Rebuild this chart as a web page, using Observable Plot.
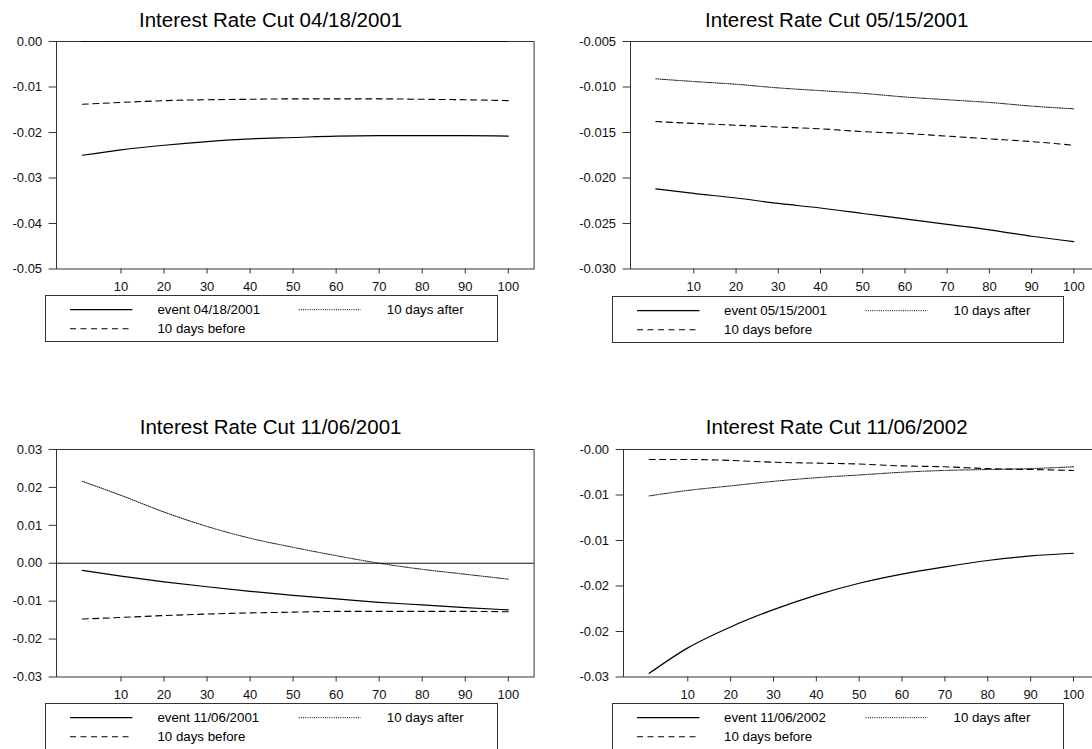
<!DOCTYPE html>
<html><head><meta charset="utf-8">
<script src="https://cdn.jsdelivr.net/npm/d3@7"></script>
<script src="https://cdn.jsdelivr.net/npm/@observablehq/plot@0.6"></script>
<style>
html,body{margin:0;padding:0;background:#fff;}
#fig{position:relative;width:1092px;height:749px;overflow:hidden;font-family:"Liberation Sans",Arial,sans-serif;color:#000;}
.title{position:absolute;font-size:20.5px;white-space:nowrap;transform:translateX(-50%);line-height:20.5px;}
.plot{position:absolute;}
.plot svg{max-width:none !important;}
.legend{position:absolute;width:450.5px;height:45px;border:1px solid #333;background:#fff;}
.legend span{position:absolute;font-size:13.3px;line-height:15px;white-space:nowrap;}
.legend svg{position:absolute;left:0;top:0;overflow:visible;}
</style></head><body><div id="fig"></div>
<script>
// ---- data ----
const days = [1, 10, 20, 30, 40, 50, 60, 70, 80, 90, 100];
const xTicks = [10, 20, 30, 40, 50, 60, 70, 80, 90, 100];
const seriesLabels = ["10 days before", "10 days after"];

const titles = ["Interest Rate Cut 04/18/2001", "Interest Rate Cut 05/15/2001", "Interest Rate Cut 11/06/2001", "Interest Rate Cut 11/06/2002"];
const eventLabels = ["event 04/18/2001", "event 05/15/2001", "event 11/06/2001", "event 11/06/2002"];

// Panel 1: 04/18/2001
const event1 = [-0.0250, -0.0238, -0.0228, -0.0220, -0.0214, -0.0211, -0.0208, -0.0207, -0.0207, -0.0207, -0.0208];
const before1 = [-0.0138, -0.0134, -0.0130, -0.0128, -0.0127, -0.0126, -0.0126, -0.0126, -0.0127, -0.0128, -0.0130];
const after1 = [0, 0, 0, 0, 0, 0, 0, 0, 0, 0, 0];
const yTicks1 = [0, -0.01, -0.02, -0.03, -0.04, -0.05];
const yLabels1 = ["0.00", "-0.01", "-0.02", "-0.03", "-0.04", "-0.05"];

// Panel 2: 05/15/2001
const event2 = [-0.0212, -0.0217, -0.0222, -0.0228, -0.0233, -0.0239, -0.0245, -0.0251, -0.0257, -0.0264, -0.0270];
const before2 = [-0.0138, -0.0140, -0.0142, -0.0144, -0.0146, -0.0149, -0.0151, -0.0154, -0.0157, -0.0160, -0.0164];
const after2 = [-0.0091, -0.0094, -0.0097, -0.0101, -0.0104, -0.0107, -0.0111, -0.0114, -0.0117, -0.0121, -0.0124];
const yTicks2 = [-0.005, -0.010, -0.015, -0.020, -0.025, -0.030];
const yLabels2 = ["-0.005", "-0.010", "-0.015", "-0.020", "-0.025", "-0.030"];

// Panel 3: 11/06/2001
const event3 = [-0.0019, -0.0034, -0.0049, -0.0062, -0.0074, -0.0085, -0.0094, -0.0103, -0.0110, -0.0117, -0.0123];
const before3 = [-0.0147, -0.0143, -0.0138, -0.0134, -0.0131, -0.0129, -0.0127, -0.0127, -0.0127, -0.0127, -0.0128];
const after3 = [0.0216, 0.0179, 0.0135, 0.0097, 0.0066, 0.0042, 0.0020, 0.0000, -0.0016, -0.0029, -0.0042];
const yTicks3 = [0.03, 0.02, 0.01, 0, -0.01, -0.02, -0.03];
const yLabels3 = ["0.03", "0.02", "0.01", "0.00", "-0.01", "-0.02", "-0.03"];

// Panel 4: 11/06/2002
const event4 = [-0.0271, -0.0243, -0.0220, -0.0201, -0.0185, -0.0172, -0.0162, -0.0154, -0.0147, -0.0142, -0.0139];
const before4 = [-0.0036, -0.0036, -0.0037, -0.0039, -0.0040, -0.0041, -0.0043, -0.0044, -0.0046, -0.0047, -0.0048];
const after4 = [-0.0076, -0.0070, -0.0065, -0.0060, -0.0056, -0.0053, -0.0050, -0.0048, -0.0047, -0.0046, -0.0044];
const yTicks4 = [-0.0025, -0.0075, -0.0125, -0.0175, -0.0225, -0.0275];
const yLabels4 = ["-0.00", "-0.01", "-0.01", "-0.02", "-0.02", "-0.03"];

// ---- layout ----
const panels = [
  {title: titles[0], ev: eventLabels[0], event: event1, before: before1, after: after1, yTicks: yTicks1, yLabels: yLabels1, yDomain: [-0.05, 0], zero: false,
   axisX: 55.7, frameTop: 41.3, frameW: 477.6, titleX: 270.6, legendX: 45, legendY: 295.3},
  {title: titles[1], ev: eventLabels[1], event: event2, before: before2, after: after2, yTicks: yTicks2, yLabels: yLabels2, yDomain: [-0.030, -0.005], zero: false,
   axisX: 630.4, frameTop: 41.3, frameW: 468.7, titleX: 836.7, legendX: 611.7, legendY: 295.5},
  {title: titles[2], ev: eventLabels[2], event: event3, before: before3, after: after3, yTicks: yTicks3, yLabels: yLabels3, yDomain: [-0.03, 0.03], zero: true,
   axisX: 55.7, frameTop: 449, frameW: 477.6, titleX: 270.6, legendX: 45, legendY: 703},
  {title: titles[3], ev: eventLabels[3], event: event4, before: before4, after: after4, yTicks: yTicks4, yLabels: yLabels4, yDomain: [-0.0275, -0.0025], zero: false,
   axisX: 622.8, frameTop: 449, frameW: 475.7, titleX: 836.7, legendX: 611.7, legendY: 703}
];

const fig = document.getElementById("fig");
const FONT = "'Liberation Sans', Arial, sans-serif";
const ML = 60, MR = 6, MT = 10, MB = 30, FH = 227.5;

for (const p of panels) {
  const rows = arr => days.map((d, i) => ({day: d, value: arr[i]}));
  const labelOf = new Map(p.yTicks.map((t, i) => [t, p.yLabels[i]]));
  const marks = [Plot.frame({stroke: "#333", strokeWidth: 1})];
  if (p.zero) marks.push(Plot.ruleY([0], {stroke: "#111", strokeWidth: 1}));
  marks.push(
    Plot.lineY(rows(p.before), {x: "day", y: "value", stroke: "#000", strokeWidth: 1.1, strokeDasharray: "6,4.5", curve: "monotone-x"}),
    Plot.lineY(rows(p.after), {x: "day", y: "value", stroke: "#000", strokeWidth: 1, strokeDasharray: "1,1.2", curve: "monotone-x"}),
    Plot.lineY(rows(p.event), {x: "day", y: "value", stroke: "#000", strokeWidth: 1.2, curve: "monotone-x"})
  );
  const W = ML + p.frameW + MR, H = MT + FH + MB;
  const svg = Plot.plot({
    width: W,
    height: H,
    marginLeft: ML, marginRight: MR, marginTop: MT, marginBottom: MB,
    style: {fontFamily: FONT, fontSize: "13px", color: "#333", background: "transparent", overflow: "visible", maxWidth: "none"},
    x: {domain: [-5, 106], ticks: xTicks, tickSize: 5, tickPadding: 8, tickFormat: d => String(d), label: null},
    y: {domain: p.yDomain, ticks: p.yTicks, tickSize: 7.4, tickPadding: 7, tickFormat: d => labelOf.get(d), label: null},
    marks
  });
  svg.querySelectorAll("text").forEach(t => t.setAttribute("fill", "#111"));
  const wrap = document.createElement("div");
  wrap.className = "plot";
  wrap.style.left = (p.axisX - ML) + "px";
  wrap.style.top = (p.frameTop - MT) + "px";
  wrap.style.width = W + "px";
  wrap.style.height = H + "px";
  wrap.appendChild(svg);
  fig.appendChild(wrap);

  const t = document.createElement("div");
  t.className = "title";
  t.textContent = p.title;
  t.style.left = p.titleX + "px";
  t.style.top = (p.frameTop - 31.6) + "px";
  fig.appendChild(t);

  const lg = document.createElement("div");
  lg.className = "legend";
  lg.style.left = p.legendX + "px";
  lg.style.top = p.legendY + "px";
  const ns = "http://www.w3.org/2000/svg";
  const s = document.createElementNS(ns, "svg");
  s.setAttribute("width", 450); s.setAttribute("height", 45);
  const mk = (x1, x2, y, dash, w) => {
    const l = document.createElementNS(ns, "line");
    l.setAttribute("x1", x1); l.setAttribute("x2", x2); l.setAttribute("y1", y); l.setAttribute("y2", y);
    l.setAttribute("stroke", "#000"); l.setAttribute("stroke-width", w);
    if (dash) l.setAttribute("stroke-dasharray", dash);
    s.appendChild(l);
  };
  mk(24, 86.4, 13.7, null, 1.2);
  mk(24, 86.4, 32.7, "6,4.5", 1.1);
  mk(252.6, 314.6, 13.7, "1,1.2", 1);
  lg.appendChild(s);
  const addText = (txt, x, y) => {
    const sp = document.createElement("span");
    sp.textContent = txt; sp.style.left = x + "px"; sp.style.top = y + "px";
    lg.appendChild(sp);
  };
  addText(p.ev, 111.4, 6.2);
  addText(seriesLabels[1], 340.8, 6.2);
  addText(seriesLabels[0], 111.4, 25.2);
  fig.appendChild(lg);
}
</script></body></html>
